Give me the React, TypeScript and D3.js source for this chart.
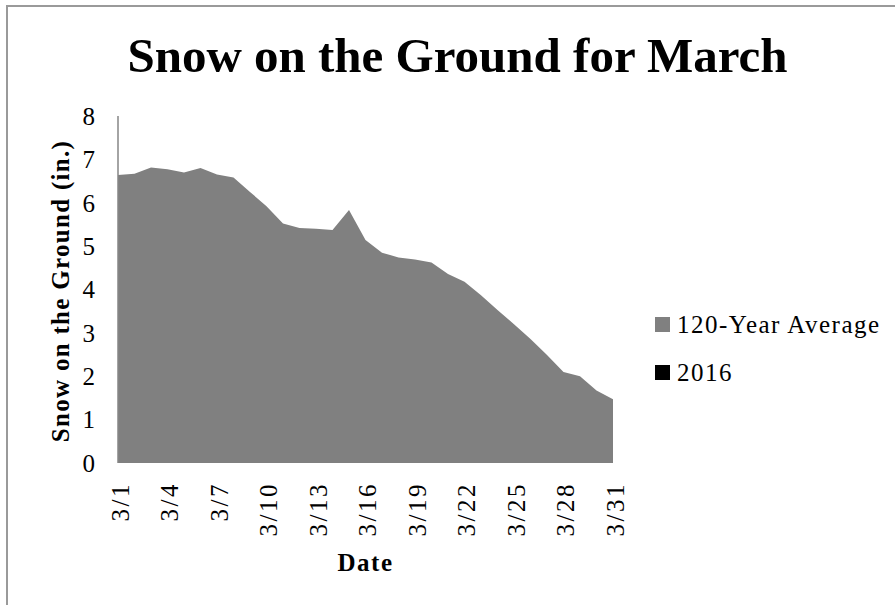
import React, { useMemo } from 'react';
import * as d3 from 'd3';

// March dates (category axis)
const dates = d3.range(1, 32).map((d) => `3/${d}`);

// 120-year average snow depth (in.)
const avgSnow = [
  6.64, 6.67, 6.81, 6.77, 6.70, 6.80, 6.65, 6.58, 6.25, 5.92,
  5.52, 5.42, 5.40, 5.37, 5.83, 5.14, 4.85, 4.74, 4.69, 4.62,
  4.36, 4.18, 3.87, 3.53, 3.20, 2.86, 2.49, 2.10, 2.00, 1.67, 1.47,
];

// 2016 series: nothing visible on the chart
const snow2016: number[] = [];

const yTicks = [0, 1, 2, 3, 4, 5, 6, 7, 8];
const tickDates = dates.filter((_, i) => i % 3 === 0);

const legendItems = [
  { label: '120-Year Average', color: '#808080' },
  { label: '2016', color: '#000000' },
];

const App: React.FC = () => {
  const svgWidth = 895;
  const svgHeight = 605;
  const plot = { left: 118, right: 613, top: 116, bottom: 463 };
  const font = '"Liberation Serif", "Times New Roman", serif';

  const x = useMemo(
    () => d3.scalePoint<string>().domain(dates).range([plot.left, plot.right]),
    []
  );
  const y = useMemo(
    () => d3.scaleLinear().domain([0, 8]).range([plot.bottom, plot.top]),
    []
  );

  const area = d3
    .area<number>()
    .x((_, i) => x(dates[i]) as number)
    .y0(y(0))
    .y1((d) => y(d));

  const line2016 = d3
    .line<number>()
    .x((_, i) => x(dates[i]) as number)
    .y((d) => y(d));

  return (
    <svg
      width={svgWidth}
      height={svgHeight}
      style={{ position: 'absolute', left: 0, top: 0, background: '#fff' }}
    >
      {/* chart frame (only top and left edges show) */}
      <rect x={7} y={6} width={1000} height={1000} fill="none" stroke="#9a9a9a" strokeWidth={2} />

      {/* Title */}
      <text
        x={457.5}
        y={72}
        textAnchor="middle"
        fontFamily={font}
        fontWeight="bold"
        fontSize={49}
        fill="#000"
      >
        Snow on the Ground for March
      </text>

      {/* Area series */}
      <path d={area(avgSnow) || ''} fill="#808080" />
      {snow2016.length > 0 && (
        <path d={line2016(snow2016) || ''} fill="none" stroke="#000" strokeWidth={2} />
      )}

      {/* Y axis line */}
      <line
        x1={plot.left}
        x2={plot.left}
        y1={plot.top}
        y2={plot.bottom}
        stroke="#868686"
        strokeWidth={1.5}
      />

      {/* Y tick labels */}
      {yTicks.map((t) => (
        <text
          key={t}
          x={95}
          y={y(t)}
          dy="0.35em"
          textAnchor="end"
          fontFamily={font}
          fontSize={25}
          fill="#000"
        >
          {t}
        </text>
      ))}

      {/* X tick labels (rotated) */}
      {tickDates.map((d) => (
        <text
          key={d}
          transform={`translate(${(x(d) as number) + 2}, 482) rotate(-90)`}
          dy="0.35em"
          textAnchor="end"
          fontFamily={font}
          fontSize={25}
          letterSpacing={2.5}
          fill="#000"
        >
          {d}
        </text>
      ))}

      {/* Axis titles */}
      <text
        x={(plot.left + plot.right) / 2}
        y={571}
        textAnchor="middle"
        fontFamily={font}
        fontWeight="bold"
        fontSize={25}
        letterSpacing={1.5}
        fill="#000"
      >
        Date
      </text>
      <text
        transform="translate(69, 291) rotate(-90)"
        textAnchor="middle"
        fontFamily={font}
        fontWeight="bold"
        fontSize={25}
        letterSpacing={1.3}
        fill="#000"
      >
        Snow on the Ground (in.)
      </text>

      {/* Legend */}
      {legendItems.map((item, i) => (
        <g key={item.label} transform={`translate(655, ${317 + i * 48})`}>
          <rect width={15} height={15} fill={item.color} />
          <text
            x={22}
            y={7.5}
            dy="0.35em"
            fontFamily={font}
            fontSize={25}
            letterSpacing={1.5}
            fill="#000"
          >
            {item.label}
          </text>
        </g>
      ))}
    </svg>
  );
};

export default App;
